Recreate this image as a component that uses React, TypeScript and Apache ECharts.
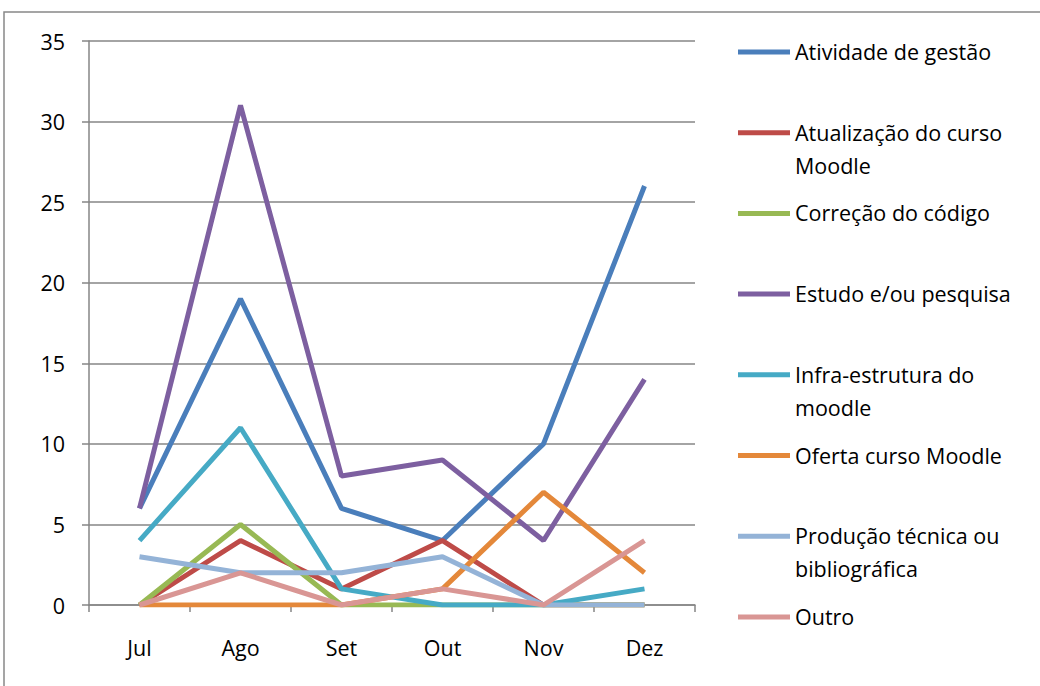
import React, { useEffect, useRef } from "react";
import * as echarts from "echarts";

const categories = ["Jul", "Ago", "Set", "Out", "Nov", "Dez"];
const seriesNames = [
  "Atividade de gestão",
  "Atualização do curso\nMoodle",
  "Correção do código",
  "Estudo e/ou pesquisa",
  "Infra-estrutura do\nmoodle",
  "Oferta curso Moodle",
  "Produção técnica ou\nbibliográfica",
  "Outro",
];
const atividade = [6, 19, 6, 4, 10, 26];
const atualizacao = [0, 4, 1, 4, 0, 0];
const correcao = [0, 5, 0, 0, 0, 0];
const estudo = [6, 31, 8, 9, 4, 14];
const infra = [4, 11, 1, 0, 0, 1];
const oferta = [0, 0, 0, 1, 7, 2];
const producao = [3, 2, 2, 3, 0, 0];
const outro = [0, 2, 0, 1, 0, 4];
const seriesData = [atividade, atualizacao, correcao, estudo, infra, oferta, producao, outro];
const colors = ["#4A7EBB", "#BE4B48", "#98B954", "#7D5FA0", "#46AAC5", "#E4883A", "#94B3D7", "#D99694"];

const FONT = "'Open Sans', sans-serif";

export default function App() {
  const ref = useRef<HTMLDivElement>(null);
  useEffect(() => {
    if (!ref.current) return;
    const chart = echarts.init(ref.current, undefined, { renderer: "svg" });
    const legendGraphics: any[] = [];
    seriesNames.forEach((name, i) => {
      const y = 52 + i * 80.7;
      legendGraphics.push({
        type: "line",
        shape: { x1: 738, y1: y, x2: 790, y2: y },
        style: { stroke: colors[i], lineWidth: 5 },
      });
      legendGraphics.push({
        type: "text",
        x: 795,
        y: y - 17,
        style: {
          text: name,
          fill: "#000",
          font: `21.5px ${FONT}`,
          lineHeight: 33,
          textVerticalAlign: "top",
        },
      });
    });
    chart.setOption({
      animation: false,
      color: colors,
      grid: { left: 89, right: 345, top: 41, bottom: 81 },
      xAxis: {
        type: "category",
        data: categories,
        boundaryGap: true,
        axisLine: { lineStyle: { color: "#868686", width: 1.5 } },
        axisTick: { show: true, length: 7, lineStyle: { color: "#868686", width: 1.5 } },
        axisLabel: { color: "#000", fontSize: 21.5, fontFamily: FONT, margin: 31 },
      },
      yAxis: {
        type: "value",
        min: 0,
        max: 35,
        interval: 5,
        axisLine: { show: true, lineStyle: { color: "#868686", width: 1.5 } },
        axisTick: { show: true, length: 7, lineStyle: { color: "#868686", width: 1.5 } },
        splitLine: { lineStyle: { color: "#868686", width: 1.5 } },
        axisLabel: { color: "#000", fontSize: 21.5, fontFamily: FONT, margin: 24 },
      },
      series: seriesData.map((d, i) => ({
        type: "line",
        name: seriesNames[i].replace("\n", " "),
        data: d,
        symbol: "none",
        lineStyle: { width: 5, color: colors[i] },
      })),
      graphic: [
        {
          type: "rect",
          shape: { x: 4, y: 12, width: 1100, height: 700 },
          style: { fill: "none", stroke: "#888", lineWidth: 1.5 },
          silent: true,
        },
        ...legendGraphics,
      ],
    });
    return () => chart.dispose();
  }, []);
  return (
    <div
      ref={ref}
      style={{ position: "fixed", left: 0, top: 0, width: 1040, height: 686, background: "#fff" }}
    />
  );
}
